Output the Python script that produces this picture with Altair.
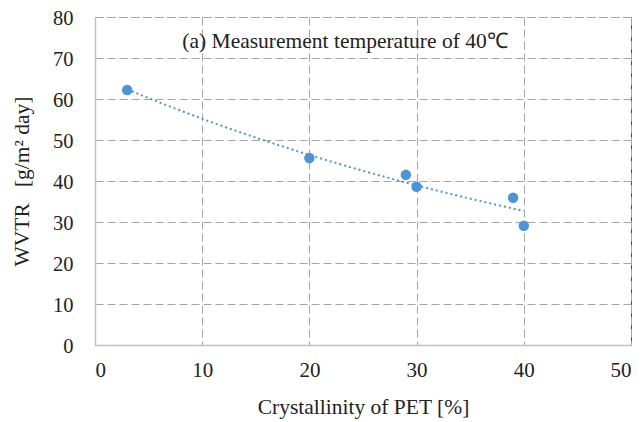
import altair as alt
import pandas as pd

crystallinity = [3, 20, 29, 30, 39, 40]
wvtr = [62.2, 45.6, 41.5, 38.6, 35.9, 29.1]

df = pd.DataFrame({"x": crystallinity, "y": wvtr})
FONT = "Liberation Serif"
BLUE = "#4f95d3"

x_enc = alt.X("x:Q", scale=alt.Scale(domain=[0, 50], nice=False),
              axis=alt.Axis(values=[0, 10, 20, 30, 40, 50], title="Crystallinity of PET [%]"))
y_enc = alt.Y("y:Q", scale=alt.Scale(domain=[0, 80], nice=False),
              axis=alt.Axis(values=[0, 10, 20, 30, 40, 50, 60, 70, 80],
                            title="WVTR\u00a0\u00a0\u00a0[g/m² day]",
                            labelFontSize=20.5, labelOffset=1.5))

base = alt.Chart(df)
points = base.mark_circle(size=110, opacity=1, color=BLUE).encode(x=x_enc, y=y_enc)
trend = base.transform_regression("x", "y", method="exp").mark_line(
    color=BLUE, strokeDash=[2, 3], strokeWidth=2
).encode(x="x:Q", y="y:Q")

label = alt.Chart(pd.DataFrame({"t": ["(a) Measurement temperature of 40℃"]})).mark_text(
    font=FONT, fontSize=21.5, color="#222222", baseline="middle", align="center"
).encode(x=alt.value(250), y=alt.value(25), text="t:N")

chart = (trend + points + label).properties(
    width=536, height=328,
    autosize=alt.AutoSizeParams(type="none"),
    padding={"left": 87, "top": 9, "right": 4, "bottom": 77},
).configure_view(
    stroke="#444444", strokeDash=[8, 4], strokeWidth=1
).configure_axis(
    labelFont=FONT, titleFont=FONT, labelFontSize=21, titleFontSize=21.5,
    labelColor="#222222", titleColor="#222222", titleFontWeight="normal",
    grid=True, gridColor="#a6a6a6", gridDash=[8, 4], gridWidth=1,
    domainColor="#c0c0c0", domainWidth=1.5, ticks=False,
).configure_axisY(
    labelPadding=22, titlePadding=19
).configure_axisX(
    labelPadding=14, titlePadding=16
)

chart.save("out.html", embed_options={"renderer": "svg", "actions": False})
